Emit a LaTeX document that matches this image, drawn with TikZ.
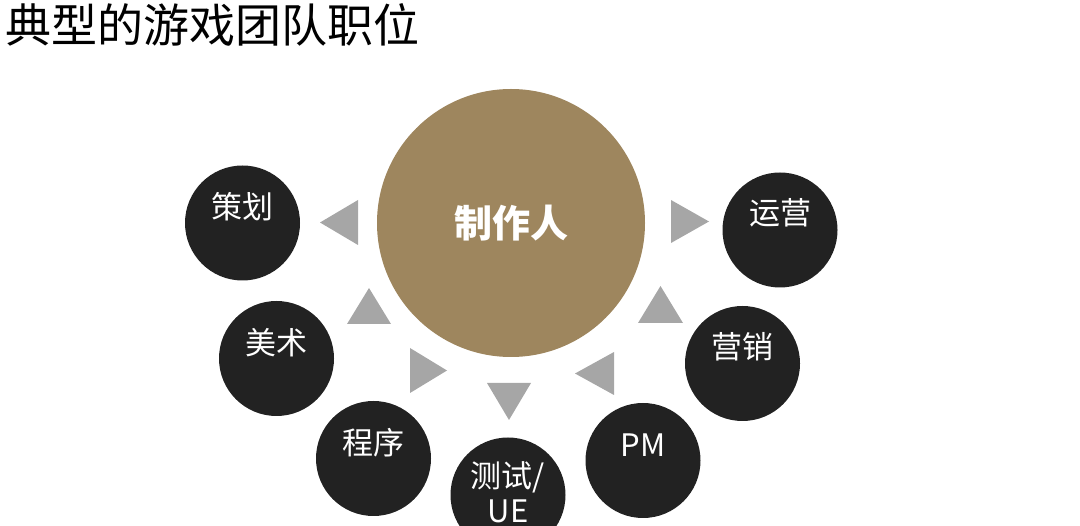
\documentclass[tikz,border=0pt]{standalone}
\usepackage{fontspec}
\setmainfont{Noto Sans CJK SC}
\definecolor{gold}{RGB}{158,134,94}
\definecolor{dark}{RGB}{34,34,34}
\definecolor{arrowgray}{RGB}{166,166,166}
\begin{document}
\begin{tikzpicture}[x=1pt, y=-1pt,
	role/.style={circle, fill=dark, minimum size=115pt, inner sep=0pt},
	rolename/.style={text=white, font=\fontsize{31}{35}\selectfont, align=center, inner sep=0pt},
	tri/.style={fill=arrowgray}]
	\useasboundingbox (0,0) rectangle (1080,526);
	
	\node[anchor=west, inner sep=0pt, font=\fontsize{46}{50}\selectfont] (title) at (5,25) {典型的游戏团队职位};
	
	\node[circle, fill=gold, minimum size=268pt, inner sep=0pt, text=white, font=\bfseries\fontsize{38}{40}\selectfont] (maker) at (511,223) {制作人};
	
	\node[role] (plan) at (242.5,223) {};
	\node[role] (art) at (276.5,358.5) {};
	\node[role] (code) at (373.5,458.5) {};
	\node[role] (test) at (508,495) {};
	\node[role] (pm) at (643,460.5) {};
	\node[role] (market) at (742.5,363.5) {};
	\node[role] (ops) at (780,230) {};
	
	\node[rolename] at ([yshift=16pt]plan.center) {策划};
	\node[rolename] at ([yshift=16pt]art.center) {美术};
	\node[rolename] at ([yshift=16pt]code.center) {程序};
	\node[rolename] at ([yshift=3pt]test.center) {测试/\\UE};
	\node[rolename] at ([yshift=15pt]pm.center) {PM};
	\node[rolename] at ([yshift=17pt]market.center) {营销};
	\node[rolename] at ([yshift=17pt]ops.center) {运营};
	
	\fill[tri] (358,200) -- ++(0,45) -- ++(-38,-22.5) -- cycle;
	\fill[tri] (347,324) -- ++(44,0) -- ++(-22,-36) -- cycle;
	\fill[tri] (410,348) -- ++(0,45) -- ++(37,-22.5) -- cycle;
	\fill[tri] (487,383) -- ++(44,0) -- ++(-22,37) -- cycle;
	\fill[tri] (614,352) -- ++(0,43) -- ++(-39,-21.5) -- cycle;
	\fill[tri] (638,323) -- ++(45,0) -- ++(-22.5,-37) -- cycle;
	\fill[tri] (671,200) -- ++(0,43) -- ++(38,-21.5) -- cycle;
\end{tikzpicture}
\end{document}
